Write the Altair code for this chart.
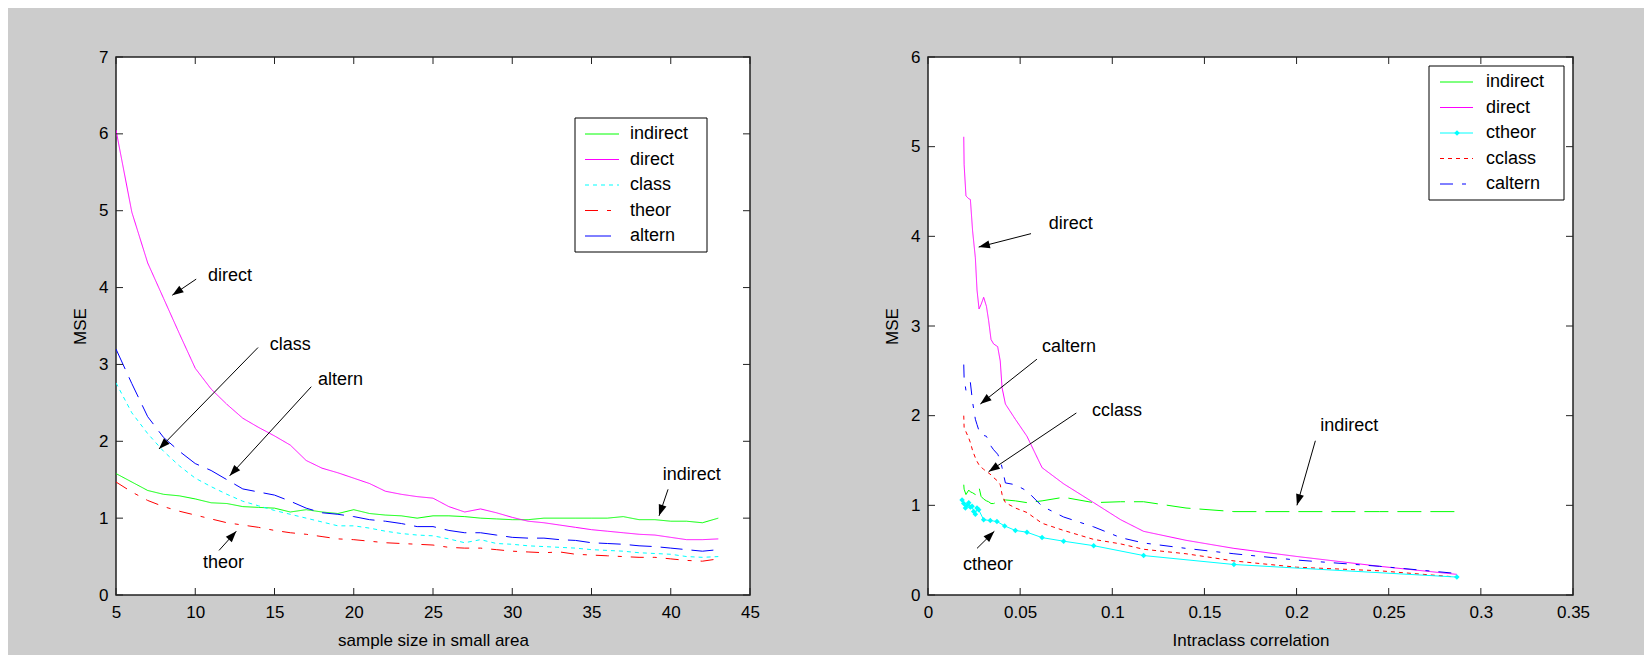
import math
import altair as alt
import pandas as pd

FONT = "Liberation Sans"
FS = 17      # tick labels / axis titles
TFS = 18     # legend and annotation text

# ---------------- Left panel data (sample size in small area) ----------------
SAMPLE_SIZE = list(range(5, 44))
L_INDIRECT = [1.58, 1.47, 1.36, 1.31, 1.29, 1.25, 1.20, 1.19, 1.15, 1.14,
              1.13, 1.08, 1.11, 1.08, 1.06, 1.11, 1.06, 1.04, 1.03, 1.00,
              1.03, 1.03, 1.02, 1.00, 0.99, 0.98, 0.98, 1.00, 1.00, 1.00,
              1.00, 1.00, 1.02, 0.98, 0.98, 0.96, 0.96, 0.94, 1.00]
L_DIRECT = [6.05, 4.98, 4.32, 3.86, 3.40, 2.95, 2.68, 2.48, 2.30, 2.18,
            2.07, 1.95, 1.75, 1.65, 1.59, 1.52, 1.45, 1.35, 1.31, 1.28,
            1.26, 1.15, 1.08, 1.12, 1.07, 1.01, 0.96, 0.94, 0.91, 0.88,
            0.85, 0.83, 0.81, 0.79, 0.78, 0.75, 0.72, 0.72, 0.73]
L_CLASS = [2.76, 2.37, 2.10, 1.87, 1.68, 1.52, 1.41, 1.31, 1.22, 1.16,
           1.10, 1.05, 1.00, 0.95, 0.90, 0.90, 0.87, 0.83, 0.80, 0.78,
           0.77, 0.73, 0.68, 0.72, 0.67, 0.66, 0.64, 0.63, 0.62, 0.61,
           0.59, 0.58, 0.57, 0.55, 0.54, 0.53, 0.50, 0.49, 0.50]
L_THEOR = [1.47, 1.34, 1.23, 1.15, 1.09, 1.04, 0.99, 0.94, 0.91, 0.88,
           0.84, 0.81, 0.79, 0.76, 0.73, 0.72, 0.70, 0.68, 0.67, 0.66,
           0.65, 0.62, 0.61, 0.61, 0.59, 0.57, 0.56, 0.55, 0.56, 0.53,
           0.52, 0.51, 0.50, 0.49, 0.49, 0.47, 0.45, 0.44, 0.47]
L_ALTERN = [3.20, 2.75, 2.32, 2.05, 1.87, 1.71, 1.62, 1.50, 1.38, 1.34,
            1.30, 1.22, 1.13, 1.07, 1.05, 1.02, 0.98, 0.96, 0.93, 0.89,
            0.89, 0.84, 0.81, 0.81, 0.78, 0.75, 0.74, 0.74, 0.72, 0.71,
            0.68, 0.67, 0.66, 0.64, 0.63, 0.61, 0.59, 0.57, 0.59]

L_NAMES = ["indirect", "direct", "class", "theor", "altern"]
L_COLORS = ["#00ff00", "#ff00ff", "#00ffff", "#ff0000", "#0000ff"]
L_DASHES = [[1, 0], [1, 0], [4, 4], [13, 9, 4, 9], [22, 9]]
L_LEG_DASHES = [[1, 0], [1, 0], [4, 4], [13, 9, 4, 9], [1, 0]]
L_LEG_END = [503, 503, 503, 495, 495]

# ---------------- Right panel data (intraclass correlation) ----------------
ICC = [0.0194, 0.0196, 0.0206, 0.0221, 0.0230, 0.0242, 0.0257, 0.0266, 0.0277, 0.0288,
       0.0302, 0.0317, 0.0329, 0.0342, 0.0356, 0.0378, 0.0392, 0.0402, 0.0420, 0.0474,
       0.0537, 0.0619, 0.0736, 0.0899, 0.1045, 0.1170, 0.1400, 0.1660, 0.2000, 0.2450,
       0.2870]
R_INDIRECT = [1.23, 1.18, 1.12, 1.17, 1.15, 1.14, 1.12, 1.16, 1.20, 1.10,
              1.07, 1.05, 1.04, 1.02, 1.02, 1.04, 1.05, 1.06, 1.06, 1.05,
              1.03, 1.05, 1.09, 1.03, 1.04, 1.04, 0.97, 0.93, 0.93, 0.93,
              0.93]
R_DIRECT = [5.11, 4.80, 4.45, 4.42, 4.41, 4.06, 3.76, 3.40, 3.19, 3.24,
            3.32, 3.22, 3.06, 2.85, 2.80, 2.77, 2.61, 2.31, 2.13, 1.96,
            1.77, 1.42, 1.24, 1.03, 0.84, 0.71, 0.61, 0.52, 0.43, 0.32,
            0.23]
R_CCLASS = [2.00, 1.87, 1.82, 1.75, 1.70, 1.61, 1.53, 1.49, 1.45, 1.43,
            1.40, 1.38, 1.36, 1.34, 1.31, 1.27, 1.23, 1.12, 1.03, 0.97,
            0.92, 0.80, 0.72, 0.62, 0.57, 0.51, 0.46, 0.38, 0.31, 0.27,
            0.20]
R_CALTERN = [2.57, 2.42, 2.28, 2.33, 2.37, 2.15, 1.96, 1.90, 1.83, 1.79,
             1.78, 1.77, 1.72, 1.66, 1.62, 1.57, 1.51, 1.42, 1.25, 1.23,
             1.16, 0.99, 0.87, 0.76, 0.64, 0.58, 0.52, 0.46, 0.39, 0.32,
             0.24]
CT_ICC = [0.0185, 0.0194, 0.0203, 0.0212, 0.0221, 0.0230, 0.0239, 0.0248, 0.0257, 0.0266,
          0.0275, 0.0302, 0.0338, 0.0374, 0.0416, 0.0474, 0.0537, 0.0619, 0.0736, 0.0899,
          0.1170, 0.1660, 0.2870]
R_CTHEOR = [1.06, 1.02, 0.97, 1.00, 1.03, 0.98, 0.99, 0.93, 0.90, 0.97,
            0.95, 0.84, 0.83, 0.82, 0.77, 0.72, 0.70, 0.64, 0.60, 0.55,
            0.44, 0.34, 0.20]

R_NAMES = ["indirect", "direct", "ctheor", "cclass", "caltern"]
R_COLORS = ["#00ff00", "#ff00ff", "#00ffff", "#ff0000", "#0000ff"]
R_DASHES = [[24, 9], [1, 0], [1, 0], [4, 4], [13, 9, 4, 9]]
R_LEG_DASHES = [[1, 0], [1, 0], [1, 0], [4, 4], [13, 9, 4, 9]]
R_LEG_END = [545, 545, 545, 545, 538]

# ---------------- Annotations (text position, arrow tail, arrow tip) ----------------
L_ANN = [
    ("direct", 10.8, 4.15, 10.06, 4.11, 8.55, 3.90),
    ("class", 14.7, 3.25, 13.96, 3.22, 7.71, 1.90),
    ("altern", 17.74, 2.80, 17.32, 2.71, 12.17, 1.55),
    ("theor", 10.49, 0.41, 11.5, 0.58, 12.59, 0.83),
    ("indirect", 39.5, 1.56, 39.83, 1.375, 39.26, 1.03),
]
R_ANN = [
    ("direct", 0.0655, 4.14, 0.0559, 4.03, 0.0275, 3.88),
    ("caltern", 0.0619, 2.77, 0.0591, 2.63, 0.0284, 2.13),
    ("cclass", 0.089, 2.05, 0.0805, 2.03, 0.0329, 1.375),
    ("ctheor", 0.019, 0.33, 0.0266, 0.52, 0.036, 0.71),
    ("indirect", 0.2129, 1.88, 0.2102, 1.72, 0.2002, 1.00),
]

L_XTICKS = [5, 10, 15, 20, 25, 30, 35, 40, 45]
L_YTICKS = [0, 1, 2, 3, 4, 5, 6, 7]
R_XTICKS = [0, 0.05, 0.1, 0.15, 0.2, 0.25, 0.3, 0.35]
R_YTICKS = [0, 1, 2, 3, 4, 5, 6]

HEAD = "M0,0L0.36,1L-0.36,1Z"
ONE = pd.DataFrame({"a": [0]})


def ann_frame(ann, xdom, ydom, W, H):
    rows = []
    for lab, tx, ty, x0, y0, x1, y1 in ann:
        dx = (x1 - x0) / (xdom[1] - xdom[0]) * W
        dy = -(y1 - y0) / (ydom[1] - ydom[0]) * H
        ang = math.degrees(math.atan2(dx, -dy)) % 360
        rows.append(dict(label=lab, tx=tx, ty=ty, x0=x0, y0=y0, x1=x1, y1=y1, angle=ang))
    return pd.DataFrame(rows)


def panel(df, names, colors, dashes, leg_dashes, leg_end, xdom, ydom, xticks, yticks,
          xtitle, W, H, ann, leg, extra_layers, xfmt):
    xs = alt.Scale(domain=xdom, nice=False, zero=False)
    ys = alt.Scale(domain=ydom, nice=False, zero=False)
    xaxis = alt.Axis(values=xticks, title=xtitle, format=xfmt, tickSize=0, ticks=False,
                     domain=False, grid=False, labelPadding=9, labelFontSize=FS,
                     labelFont=FONT, labelColor="black", titleFont=FONT,
                     titleFontSize=FS, titleFontWeight="normal", titleColor="black",
                     titleBaseline="alphabetic", titleY=50, labelFlush=False)
    yaxis = alt.Axis(values=yticks, title="MSE", tickSize=0, ticks=False, domain=False,
                     grid=False, labelPadding=8, labelFontSize=FS, labelFont=FONT,
                     labelColor="black", titleFont=FONT, titleFontSize=FS,
                     titleFontWeight="normal", titleColor="black", titleX=-36,
                     titleY=H / 2, titleAngle=-90, titleAlign="center",
                     titleBaseline="middle", labelFlush=False)

    def X(f):
        return alt.X(f, scale=xs, axis=xaxis)

    def Y(f):
        return alt.Y(f, scale=ys, axis=yaxis)

    lines = alt.Chart(df).mark_line(strokeWidth=1, clip=True).encode(
        x=X("x:Q"),
        y=Y("v:Q"),
        color=alt.Color("series:N", scale=alt.Scale(domain=names, range=colors), legend=None),
        strokeDash=alt.StrokeDash("series:N", scale=alt.Scale(domain=names, range=dashes), legend=None),
        detail="series:N",
    )
    layers = [lines] + extra_layers(X, Y)

    yt = pd.DataFrame({"x": [xdom[0]] * len(yticks), "v": yticks})
    xt = pd.DataFrame({"x": xticks, "v": [ydom[0]] * len(xticks)})
    tick_col = "#222222"
    layers += [
        alt.Chart(yt).mark_rule(color=tick_col, strokeWidth=1).encode(
            y=Y("v:Q"), x=alt.value(0), x2=alt.value(7)),
        alt.Chart(yt).mark_rule(color=tick_col, strokeWidth=1).encode(
            y=Y("v:Q"), x=alt.value(W - 7), x2=alt.value(W)),
        alt.Chart(xt).mark_rule(color=tick_col, strokeWidth=1).encode(
            x=X("x:Q"), y=alt.value(H - 7), y2=alt.value(H)),
        alt.Chart(xt).mark_rule(color=tick_col, strokeWidth=1).encode(
            x=X("x:Q"), y=alt.value(0), y2=alt.value(7)),
    ]

    af = ann_frame(ann, xdom, ydom, W, H)
    layers += [
        alt.Chart(af).mark_rule(color="black", strokeWidth=1).encode(
            x=X("x0:Q"), y=Y("y0:Q"), x2="x1:Q", y2="y1:Q"),
        alt.Chart(af).mark_point(shape=HEAD, filled=True, color="black", opacity=1,
                                 size=500, strokeWidth=0).encode(
            x=X("x1:Q"), y=Y("y1:Q"), angle=alt.Angle("angle:Q", scale=None)),
        alt.Chart(af).mark_text(align="left", baseline="middle", font=FONT, fontSize=TFS,
                                color="black").encode(
            x=X("tx:Q"), y=Y("ty:Q"), text="label:N"),
    ]

    # legend box
    bx0, bx1, by0, by1, rows_y, lx0, tx, marker_row, marker_x = leg
    layers.append(alt.Chart(ONE).mark_rect(fill="white", stroke="black", strokeWidth=1).encode(
        x=alt.value(bx0), x2=alt.value(bx1), y=alt.value(by0), y2=alt.value(by1)))
    for i, (nm, col, dsh, lx1) in enumerate(zip(names, colors, leg_dashes, leg_end)):
        layers.append(alt.Chart(ONE).mark_rule(color=col, strokeWidth=1, strokeDash=dsh).encode(
            x=alt.value(lx0), x2=alt.value(lx1), y=alt.value(rows_y[i])))
        layers.append(alt.Chart(ONE).mark_text(align="left", baseline="middle", font=FONT,
                                               fontSize=TFS, color="black").encode(
            x=alt.value(tx), y=alt.value(rows_y[i]), text=alt.value(nm)))
        if i == marker_row:
            layers.append(alt.Chart(ONE).mark_point(shape="diamond", filled=True, color=col,
                                                    opacity=1, size=30).encode(
                x=alt.value(marker_x), y=alt.value(rows_y[i])))

    return alt.layer(*layers).properties(width=W, height=H)


# ---------------- Build left panel ----------------
ldf = pd.DataFrame({
    "x": SAMPLE_SIZE * 5,
    "v": L_INDIRECT + L_DIRECT + L_CLASS + L_THEOR + L_ALTERN,
    "series": sum([[n] * len(SAMPLE_SIZE) for n in L_NAMES], []),
})
LW, LH = 634, 538
left = panel(ldf, L_NAMES, L_COLORS, L_DASHES, L_LEG_DASHES, L_LEG_END, [5, 45], [0, 7],
             L_XTICKS, L_YTICKS, "sample size in small area", LW, LH, L_ANN,
             (459, 591, 61, 195, [77, 102.5, 128, 153.5, 179], 469, 514, -1, 0),
             lambda X, Y: [], "d")

# ---------------- Build right panel ----------------
rdf = pd.DataFrame({
    "x": ICC * 4,
    "v": R_INDIRECT + R_DIRECT + R_CCLASS + R_CALTERN,
    "series": sum([[n] * len(ICC) for n in ["indirect", "direct", "cclass", "caltern"]], []),
})
ctdf = pd.DataFrame({"x": CT_ICC, "v": R_CTHEOR})


def ctheor_layers(X, Y):
    return [alt.Chart(ctdf).mark_line(color="#00ffff", strokeWidth=1,
                                      point=alt.OverlayMarkDef(shape="diamond", filled=True,
                                                               color="#00ffff", size=30)).encode(
        x=X("x:Q"), y=Y("v:Q"))]


RW, RH = 645, 538
right = panel(rdf, R_NAMES, R_COLORS, R_DASHES, R_LEG_DASHES, R_LEG_END, [0, 0.35], [0, 6],
              R_XTICKS, R_YTICKS, "Intraclass correlation", RW, RH, R_ANN,
              (501, 636, 9, 143, [25, 50.5, 76, 101.5, 127], 512, 558, 2, 529),
              ctheor_layers, "~g")

chart = alt.hconcat(left, right, spacing=121).resolve_scale(
    color="independent", strokeDash="independent", x="independent", y="independent"
).properties(
    padding={"left": 62, "top": 39, "right": 53, "bottom": 6},
    background="#cccccc",
).configure_view(stroke="#222222", strokeWidth=1.5, fill="white")

chart.save("out.html", embed_options={"renderer": "svg", "actions": False})
